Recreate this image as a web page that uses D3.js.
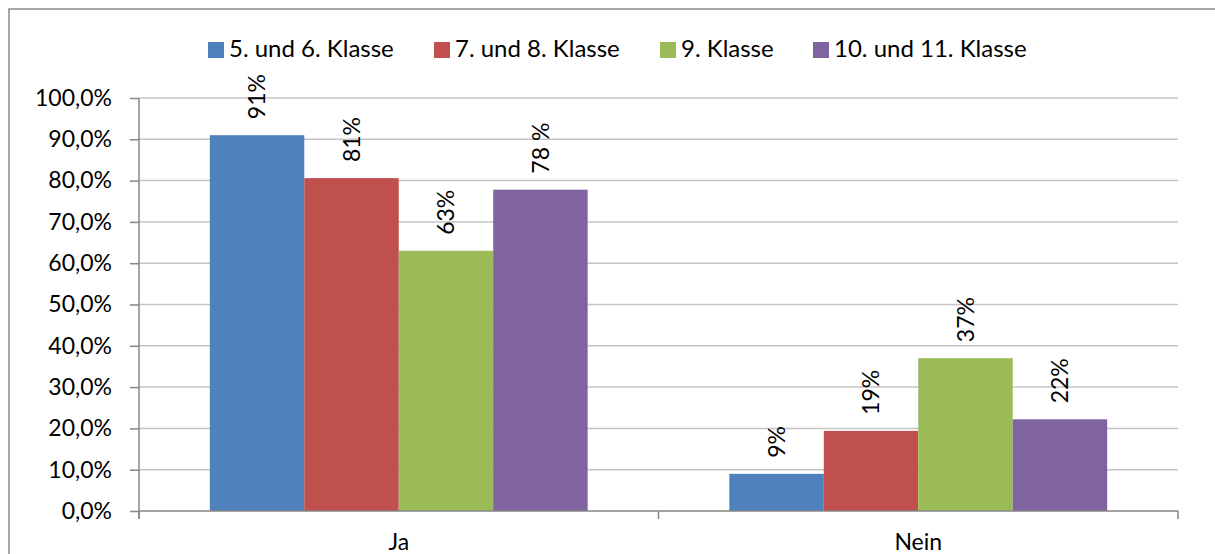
<!DOCTYPE html>
<html><head><meta charset="utf-8">
<script src="https://cdn.jsdelivr.net/npm/d3@7"></script>
<style>html,body{margin:0;padding:0;background:#fff;}svg{display:block;}</style>
</head><body>
<script>
const categories = ["Ja", "Nein"];
const seriesNames = ["5. und 6. Klasse", "7. und 8. Klasse", "9. Klasse", "10. und 11. Klasse"];
const seriesColors = ["#4f81bd", "#c0504d", "#9bbb59", "#8064a2"];
const valuesJa = [0.910, 0.806, 0.630, 0.778];
const valuesNein = [0.090, 0.194, 0.370, 0.222];
const labelsJa = ["91%", "81%", "63%", "78 %"];
const labelsNein = ["9%", "19%", "37%", "22%"];
const yTicks = [0, 0.1, 0.2, 0.3, 0.4, 0.5, 0.6, 0.7, 0.8, 0.9, 1.0];

const W = 1215, H = 554;
const FONT = "Lato, 'Open Sans', sans-serif";
const svg = d3.select("body").append("svg").attr("width", W).attr("height", H);

// outer border
svg.append("rect").attr("x", 9).attr("y", 9).attr("width", 1230).attr("height", 600)
  .attr("fill", "none").attr("stroke", "#8a8a8a").attr("stroke-width", 1.5);

const plot = {left: 139, right: 1178, top: 98, bottom: 511};
const x0 = d3.scaleBand().domain(categories).range([plot.left, plot.right]).paddingInner(0).paddingOuter(0);
const x1 = d3.scaleBand().domain(seriesNames).range([0, x0.bandwidth()]).paddingInner(0).paddingOuter(0.75);
const y = d3.scaleLinear().domain([0, 1]).range([plot.bottom, plot.top]);

// gridlines
svg.append("g").selectAll("line").data(yTicks.filter(d => d > 0)).join("line")
  .attr("x1", plot.left).attr("x2", plot.right)
  .attr("y1", d => y(d)).attr("y2", d => y(d))
  .attr("stroke", "#c4c4c4").attr("stroke-width", 1.5);

const rows = categories.map((c, i) => ({cat: c, vals: i === 0 ? valuesJa : valuesNein, labs: i === 0 ? labelsJa : labelsNein}));

const g = svg.append("g");
rows.forEach(r => {
  r.vals.forEach((v, j) => {
    const bx = x0(r.cat) + x1(seriesNames[j]);
    g.append("rect").attr("x", bx).attr("y", y(v)).attr("width", x1.bandwidth()).attr("height", y(0) - y(v))
      .attr("fill", seriesColors[j]);
    const cx = bx + x1.bandwidth() / 2;
    const ty = y(v) - 16;
    g.append("text").attr("transform", `translate(${cx},${ty}) rotate(-90)`)
      .attr("text-anchor", "start").attr("dy", "0.36em")
      .attr("font-family", FONT).attr("font-size", 23).attr("fill", "#000")
      .text(r.labs[j]);
  });
});

// axes
const axisColor = "#868686";
const yAxis = svg.append("g").attr("transform", `translate(${plot.left},0)`)
  .call(d3.axisLeft(y).tickValues(yTicks).tickSize(9).tickPadding(18)
    .tickFormat(d => d3.format(".1f")(d * 100).replace(".", ",") + "%"));
yAxis.select(".domain").remove();
yAxis.selectAll(".tick line").attr("stroke", axisColor).attr("stroke-width", 1.5);
yAxis.selectAll("text").attr("font-family", FONT).attr("font-size", 23).attr("fill", "#000");
svg.append("line").attr("x1", plot.left).attr("x2", plot.left).attr("y1", plot.top).attr("y2", plot.bottom + 8)
  .attr("stroke", axisColor).attr("stroke-width", 1.5);

svg.append("line").attr("x1", plot.left).attr("x2", plot.right).attr("y1", plot.bottom).attr("y2", plot.bottom)
  .attr("stroke", axisColor).attr("stroke-width", 1.5);
const boundaries = [plot.left, ...categories.map(c => x0(c) + x0.bandwidth())];
svg.append("g").selectAll("line").data(boundaries).join("line")
  .attr("x1", d => d).attr("x2", d => d).attr("y1", plot.bottom).attr("y2", plot.bottom + 8)
  .attr("stroke", axisColor).attr("stroke-width", 1.5);
svg.append("g").selectAll("text").data(categories).join("text")
  .attr("x", d => x0(d) + x0.bandwidth() / 2).attr("y", 550)
  .attr("text-anchor", "middle").attr("font-family", FONT).attr("font-size", 23).attr("fill", "#000")
  .text(d => d);

// legend
const legendX = [208, 434, 660, 813];
const lg = svg.append("g");
seriesNames.forEach((s, i) => {
  lg.append("rect").attr("x", legendX[i]).attr("y", 42).attr("width", 16).attr("height", 16).attr("fill", seriesColors[i]);
  lg.append("text").attr("x", legendX[i] + 21).attr("y", 57)
    .attr("font-family", FONT).attr("font-size", 24).attr("fill", "#000").text(s);
});
</script>
</body></html>
